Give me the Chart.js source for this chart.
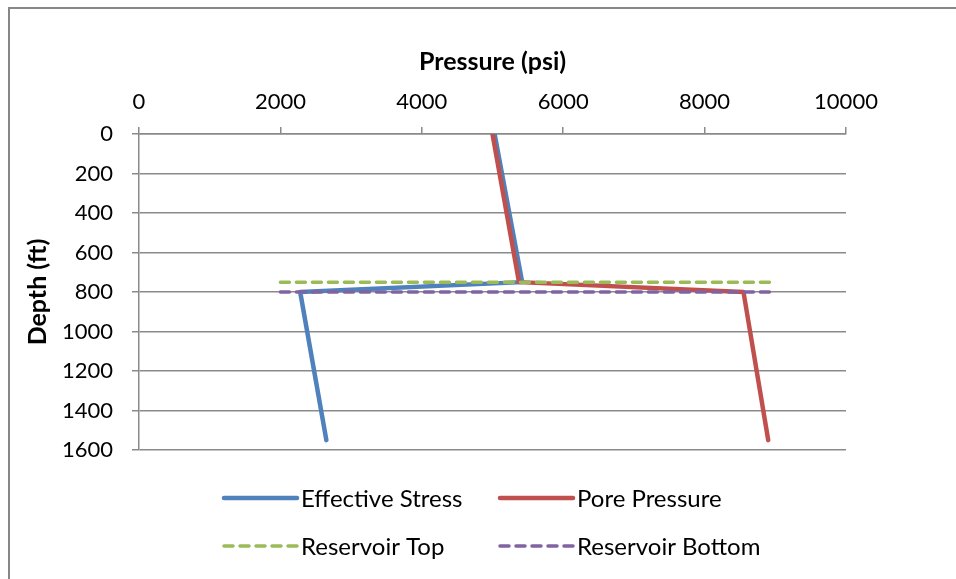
<!DOCTYPE html>
<html>
<head>
<meta charset="utf-8">
<script src="https://cdn.jsdelivr.net/npm/chart.js@4.4.1/dist/chart.umd.min.js"></script>
<style>
  html, body { margin: 0; padding: 0; background: #ffffff; }
  #wrap { position: relative; width: 956px; height: 579px; }
</style>
</head>
<body>
<div id="wrap"><canvas id="c"></canvas></div>
<script>
// ---- Data ----
const seriesNames = ['Effective Stress', 'Pore Pressure', 'Reservoir Top', 'Reservoir Bottom'];
const profileDepths = [0, 750, 800, 1550];            // ft
const effectiveStress = [5030, 5420, 2280, 2650];      // psi
const porePressure = [5000, 5375, 8550, 8900];         // psi
const reservoirX = [2000, 9000];                       // psi extent of horizontal markers
const reservoirTopDepth = [750, 750];                  // ft
const reservoirBottomDepth = [800, 800];               // ft
const xTickValues = [0, 2000, 4000, 6000, 8000, 10000];
const yTickValues = [0, 200, 400, 600, 800, 1000, 1200, 1400, 1600];

const FONT = 'Lato, "Open Sans", sans-serif';
const toPts = (xs, ys) => xs.map((x, i) => ({ x: x, y: ys[i] }));

const frameAndLegend = {
  id: 'frameAndLegend',
  beforeDraw(chart) {
    const ctx = chart.ctx;
    ctx.save();
    ctx.fillStyle = '#ffffff';
    ctx.fillRect(0, 0, chart.width, chart.height);
    ctx.strokeStyle = '#878787';
    ctx.lineWidth = 2;
    ctx.beginPath();
    ctx.moveTo(9, chart.height + 5);
    ctx.lineTo(9, 8);
    ctx.lineTo(chart.width + 5, 8);
    ctx.stroke();
    ctx.restore();
  },
  afterDraw(chart) {
    const ctx = chart.ctx;
    const cols = [222, 498];
    const rows = [498, 546];
    ctx.save();
    chart.data.datasets.forEach((ds, i) => {
      const cx = cols[i % 2];
      const cy = rows[Math.floor(i / 2)];
      ctx.strokeStyle = ds.borderColor;
      ctx.lineWidth = ds.borderWidth;
      ctx.lineCap = 'round';
      ctx.setLineDash(ds.borderDash || []);
      ctx.beginPath();
      ctx.moveTo(cx + 2, cy);
      ctx.lineTo(cx + 75, cy);
      ctx.stroke();
      ctx.setLineDash([]);
      ctx.fillStyle = '#000000';
      ctx.font = '24px ' + FONT;
      ctx.textBaseline = 'middle';
      ctx.textAlign = 'left';
      ctx.fillText(ds.label, cx + 79, cy + 1);
    });
    ctx.restore();
  }
};

new Chart(document.getElementById('c'), {
  type: 'scatter',
  data: {
    datasets: [
      { label: seriesNames[0], data: toPts(effectiveStress, profileDepths), borderColor: '#4F81BD', borderWidth: 4.5, order: 4 },
      { label: seriesNames[1], data: toPts(porePressure, profileDepths), borderColor: '#C0504D', borderWidth: 4.5, order: 3 },
      { label: seriesNames[2], data: toPts(reservoirX, reservoirTopDepth), borderColor: '#9BBB59', borderWidth: 3.5, borderDash: [9, 7], order: 2 },
      { label: seriesNames[3], data: toPts(reservoirX, reservoirBottomDepth), borderColor: '#8064A2', borderWidth: 3.5, borderDash: [9, 7], order: 1 }
    ].map(d => Object.assign(d, {
      showLine: true, pointRadius: 0, pointHoverRadius: 0, fill: false,
      borderCapStyle: 'round', borderJoinStyle: 'round', tension: 0
    }))
  },
  options: {
    responsive: true,
    maintainAspectRatio: false,
    animation: false,
    events: [],
    layout: { padding: { left: 0, top: 0, right: 110, bottom: 129 } },
    plugins: { legend: { display: false }, tooltip: { enabled: false } },
    scales: {
      x: {
        type: 'linear',
        position: 'top',
        min: 0, max: 10000,
        afterBuildTicks: s => { s.ticks = xTickValues.map(v => ({ value: v })); },
        afterFit: s => { s.height = 134; },
        ticks: { color: '#000', font: { family: FONT, size: 22 }, padding: 12, maxRotation: 0, callback: v => String(v) },
        grid: { drawOnChartArea: false, drawTicks: true, tickLength: 7, color: '#8a8a8a', lineWidth: 1.5 },
        border: { display: true, color: '#8a8a8a', width: 1.5 },
        title: { display: true, text: 'Pressure (psi)', color: '#000', font: { family: FONT, size: 25, weight: 'bold' }, padding: { top: 47, bottom: 0 } }
      },
      y: {
        type: 'linear',
        position: 'left',
        reverse: true,
        min: 0, max: 1600,
        afterBuildTicks: s => { s.ticks = yTickValues.map(v => ({ value: v })); },
        afterFit: s => { s.width = 139; },
        ticks: { color: '#000', font: { family: FONT, size: 22 }, padding: 19, callback: v => String(v) },
        grid: { drawOnChartArea: true, drawTicks: true, tickLength: 7, color: '#8a8a8a', lineWidth: 1.5 },
        border: { display: true, color: '#8a8a8a', width: 1.5 },
        title: { display: true, text: 'Depth (ft)', color: '#000', font: { family: FONT, size: 25, weight: 'bold' }, padding: { top: 23, bottom: 0 } }
      }
    }
  },
  plugins: [frameAndLegend]
});
</script>
</body>
</html>
